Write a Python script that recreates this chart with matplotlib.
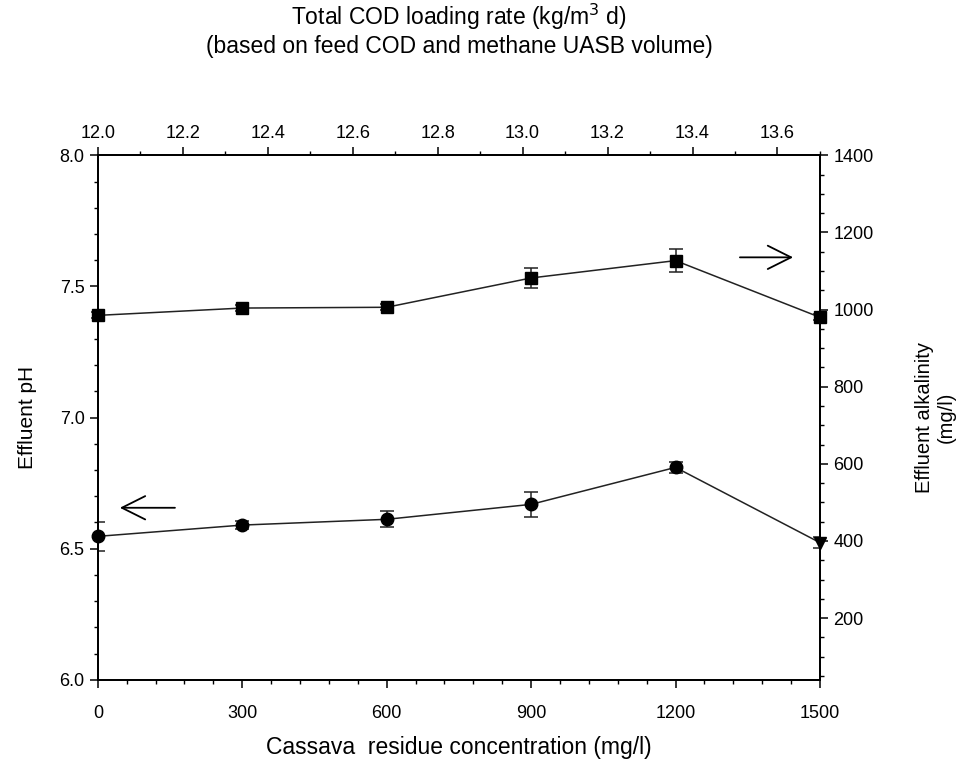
import numpy as np
import matplotlib.pyplot as plt
from matplotlib.ticker import MultipleLocator

plt.rcParams['font.family'] = ['Liberation Sans', 'DejaVu Sans']

# Cassava residue concentration (mg/l)
cassava = [0, 300, 600, 900, 1200, 1500]

# effluent pH (left axis)
ph = [6.547, 6.590, 6.612, 6.669, 6.810, 6.523]
ph_err = [0.055, 0.015, 0.030, 0.047, 0.020, 0.020]
ph_markers = ['o', 'o', 'o', 'o', 'o', 'v']

# effluent alkalinity mg/l (right axis)
alk = [985, 1004, 1006, 1082, 1127, 980]
alk_err = [8, 8, 8, 25, 30, 8]

fig = plt.figure(figsize=(9.59, 7.69), dpi=100)
ax = fig.add_axes([0.102, 0.116, 0.753, 0.682])

# pH series
ax.errorbar(cassava, ph, yerr=ph_err, color='#222222', lw=1.1, capsize=5,
            elinewidth=1.1, capthick=1.1, fmt='none', zorder=3)
ax.plot(cassava, ph, color='#222222', lw=1.1, zorder=3)
for xv, yv, m in zip(cassava, ph, ph_markers):
    ax.plot(xv, yv, marker=m, color='black', markersize=9, ls='none', zorder=4,
            clip_on=False)

ax.set_xlim(0, 1500)
ax.set_ylim(6.0, 8.0)
ax.xaxis.set_major_locator(MultipleLocator(300))
ax.xaxis.set_minor_locator(MultipleLocator(60))
ax.yaxis.set_major_locator(MultipleLocator(0.5))
ax.yaxis.set_minor_locator(MultipleLocator(0.1))
ax.yaxis.set_major_formatter(plt.FuncFormatter(lambda v, p: f'{v:.1f}'))
ax.tick_params(axis='both', which='major', length=6, width=1.1, labelsize=13)
ax.tick_params(axis='both', which='minor', length=3, width=1.0)
ax.tick_params(axis='x', pad=12)
ax.set_xlabel('Cassava  residue concentration (mg/l)', fontsize=16.5, labelpad=10)
ax.set_ylabel('Effluent pH', fontsize=15, labelpad=16)

# alkalinity series
ax2 = ax.twinx()
ax2.errorbar(cassava, alk, yerr=alk_err, color='#222222', lw=1.1, capsize=5,
             elinewidth=1.1, capthick=1.1, marker='s', markersize=8,
             markerfacecolor='black', markeredgecolor='black', zorder=3,
             clip_on=False)
ax2.set_ylim(40, 1400)
ax2.yaxis.set_minor_locator(MultipleLocator(50))
ax2.set_yticks([200, 400, 600, 800, 1000, 1200, 1400])
ax2.tick_params(axis='y', which='major', length=6, width=1.1, labelsize=13)
ax2.tick_params(axis='y', which='minor', length=3, width=1.0)
ax2.set_ylabel('Effluent alkalinity\n(mg/l)', fontsize=14.5, labelpad=30)

# top axis: COD loading rate
ax3 = ax.twiny()
ax3.set_xlim(12.0, 13.7)
ax3.xaxis.set_major_locator(MultipleLocator(0.2))
ax3.xaxis.set_minor_locator(MultipleLocator(0.1))
ax3.xaxis.set_major_formatter(plt.FuncFormatter(lambda v, p: f'{v:.1f}'))
ax3.tick_params(axis='x', which='major', length=6, width=1.1, labelsize=13)
ax3.tick_params(axis='x', which='minor', length=3, width=1.0)
ax3.set_xlabel('Total COD loading rate (kg/m$^3$ d)\n(based on feed COD and methane UASB volume)',
               fontsize=16.5, labelpad=52, linespacing=1.15)

for a in (ax, ax2, ax3):
    for s in a.spines.values():
        s.set_linewidth(1.2)

# direction arrows
ax.annotate('', xy=(40, 6.656), xytext=(166, 6.656),
            arrowprops=dict(arrowstyle='->', lw=1.3, mutation_scale=42, color='black'))
ax.annotate('', xy=(1450, 7.611), xytext=(1328, 7.611),
            arrowprops=dict(arrowstyle='->', lw=1.3, mutation_scale=42, color='black'))

fig.savefig('out.png', dpi=100)
